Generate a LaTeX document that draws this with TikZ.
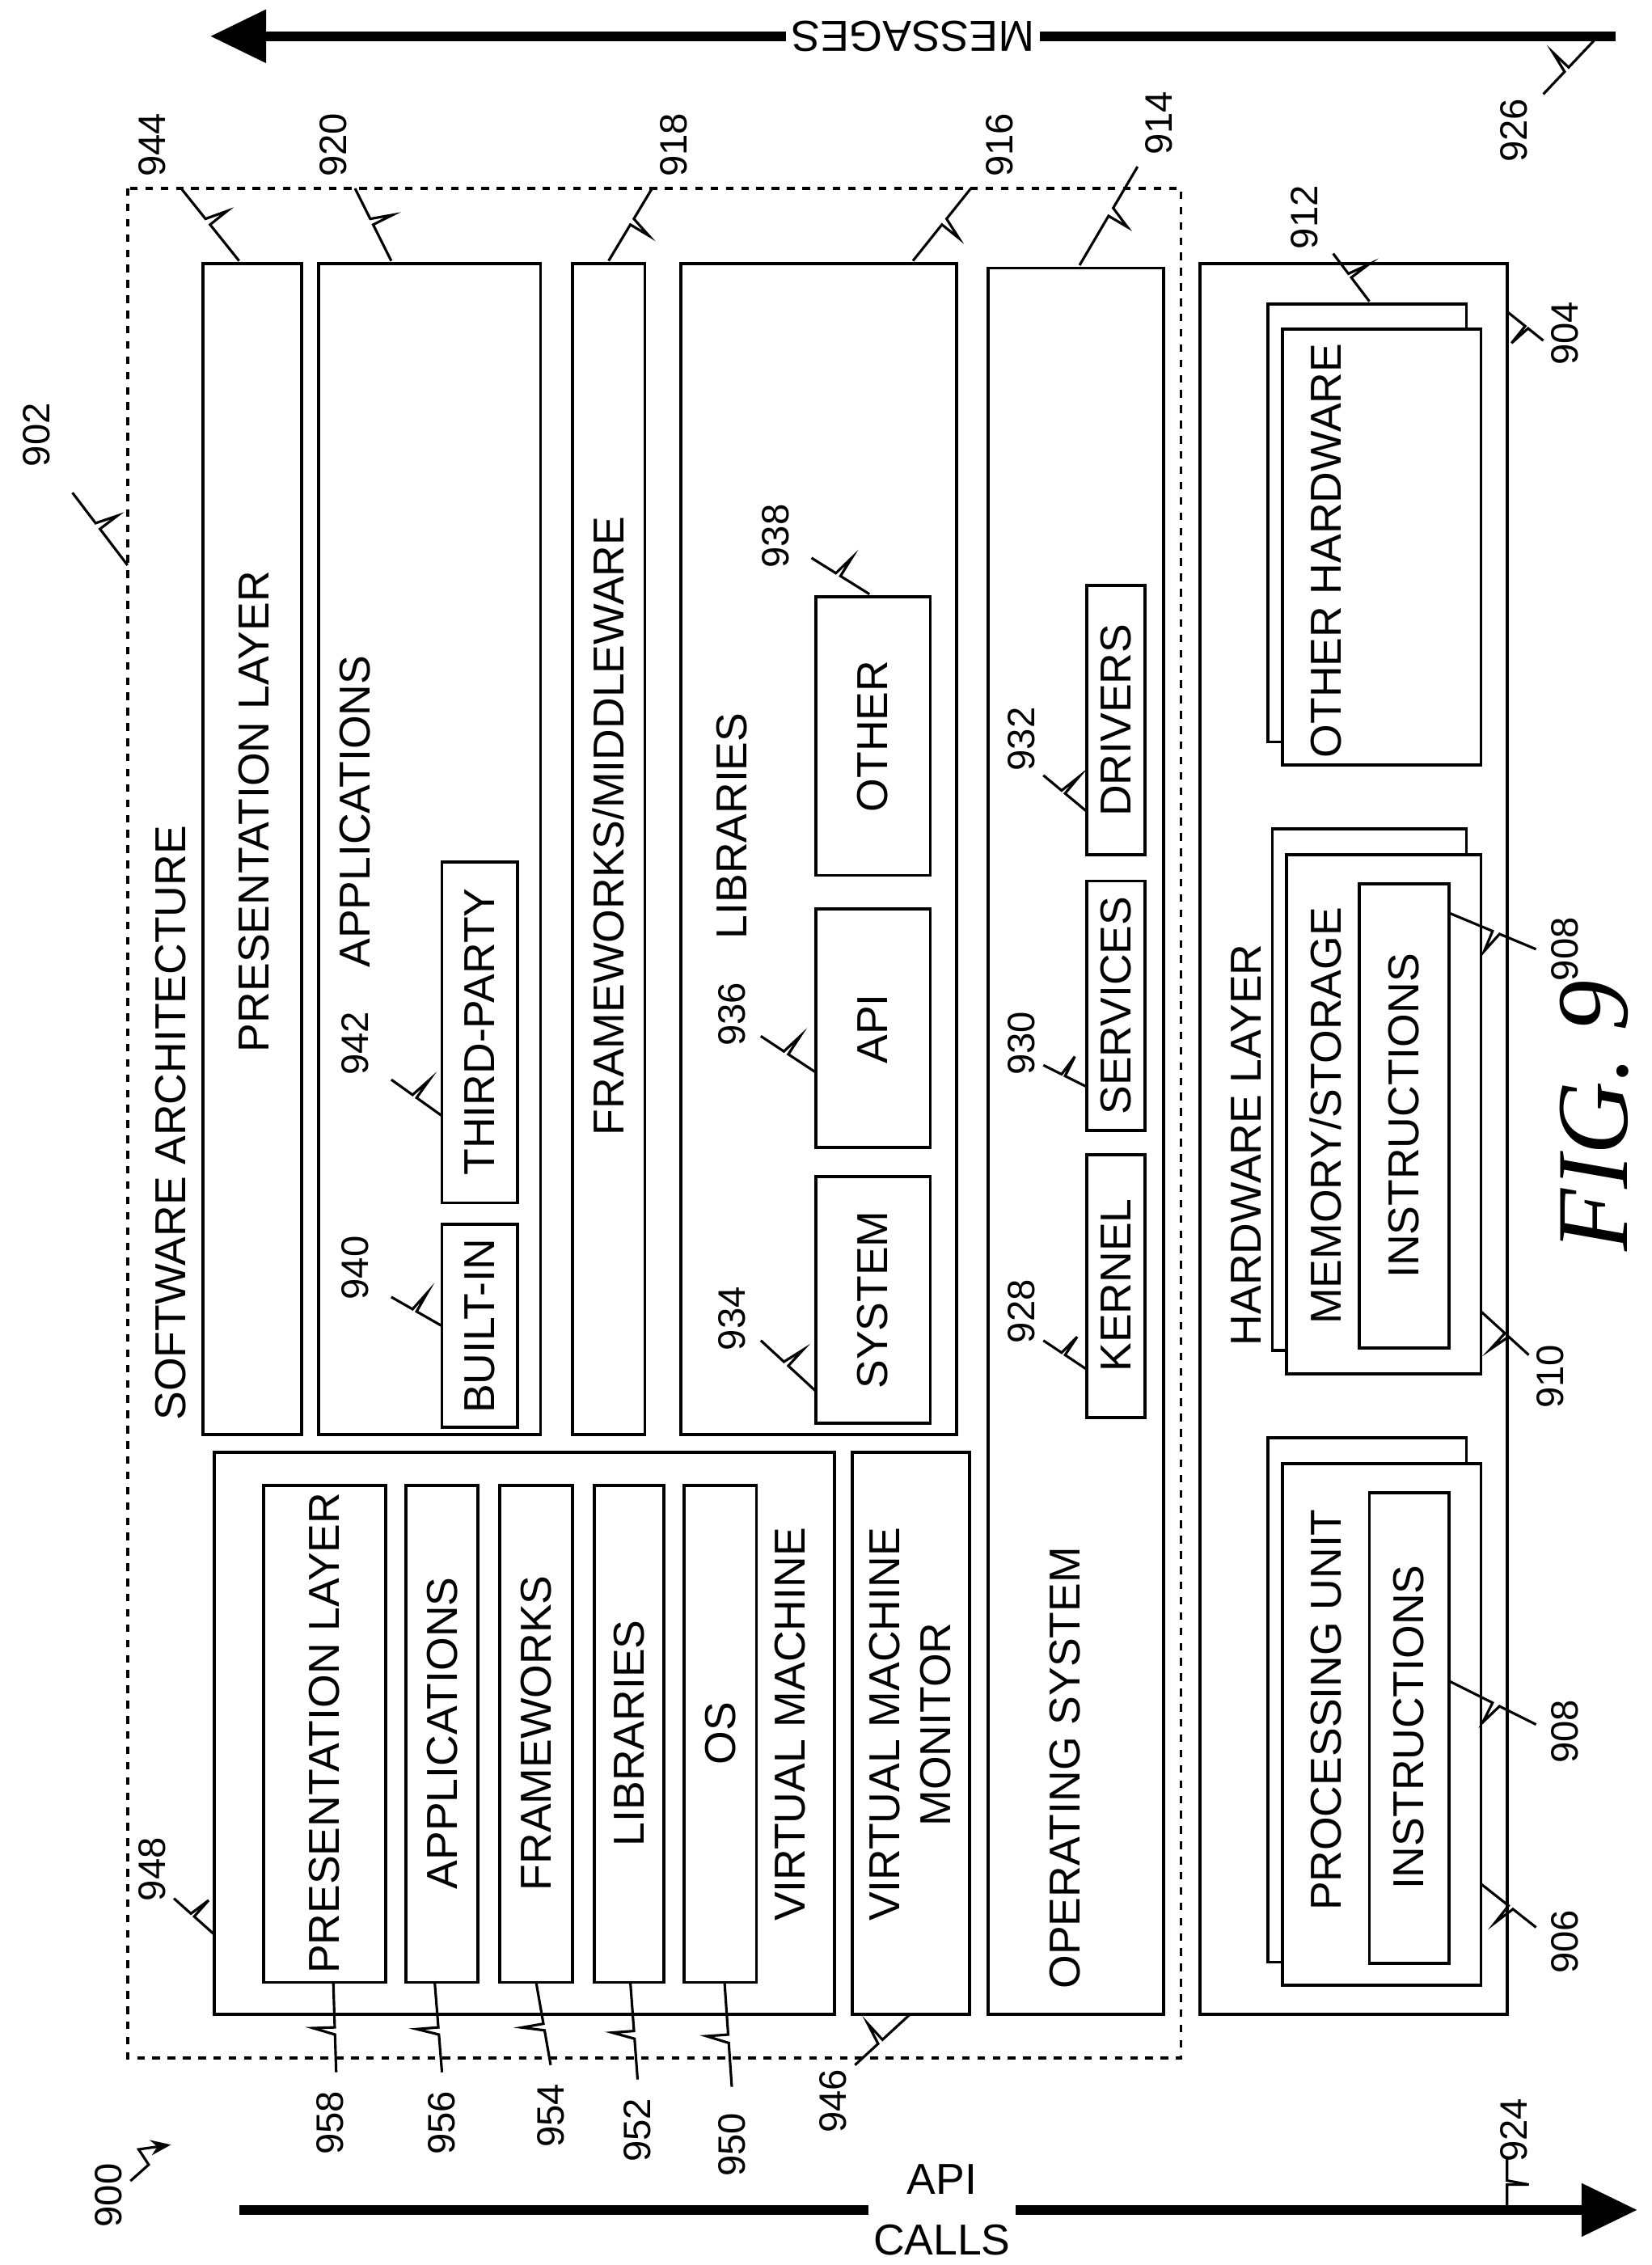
\documentclass[tikz,border=0pt]{standalone}
\usepackage{fontspec}
\setmainfont{Liberation Sans}
\newfontfamily\figfont{Liberation Serif}
\usetikzlibrary{calc, arrows.meta}
\tikzset{
  box/.style={draw, line width=1.2pt},
  txt/.style={rotate=90, font=\fontsize{17}{20}\selectfont, align=center},
  num/.style={rotate=90, font=\fontsize{15}{18}\selectfont},
  lead/.style={line width=1pt},
  big/.style={line width=4pt, -{Triangle[length=22pt,width=20pt]}}
}
% reference number with a zigzag leader
\newcommand{\refnum}[5]{%
  \node[num] (n#1) at (#2) {#5};
  \coordinate (s#1) at (#3);
  \coordinate (e#1) at (#4);
  \draw[lead] (s#1) -- ($(s#1)!.42!(e#1)$) -- ($($(s#1)!.5!(e#1)$)!.3cm!90:(e#1)$) -- ($(s#1)!.5!(e#1)$) -- (e#1);
}
\begin{document}
\begin{tikzpicture}[x=0.02cm, y=-0.02cm]
\useasboundingbox (0,0) rectangle (1140,1563);

% arrows
\coordinate (m1) at (1115,25); \coordinate (m2) at (145,25);
\draw[big] (m1) -- (m2);
\node[rotate=180, fill=white, inner sep=2pt, font=\fontsize{17}{20}\selectfont] (msg) at (630,25) {MESSAGES};
\coordinate (a1) at (165,1525); \coordinate (a2) at (1130,1525);
\draw[big] (a1) -- (a2);
\node[fill=white, inner sep=2pt, font=\fontsize{17}{20}\selectfont, align=center] (api) at (650,1525) {API\\[4pt]CALLS};

% software architecture
\draw[box, dashed] (88,130) rectangle (815,1420);
\node[txt] (sa) at (118,775) {SOFTWARE ARCHITECTURE};

\draw[box] (140,182) rectangle (208,990);
\node[txt] (pl) at (175,560) {PRESENTATION LAYER};

\draw[box] (220,182) rectangle (373,990);
\node[txt] (apps) at (245,560) {APPLICATIONS};
\draw[box] (305,845) rectangle (357,985);
\node[txt] (bi) at (331,915) {BUILT-IN};
\draw[box] (305,595) rectangle (357,830);
\node[txt] (tp) at (331,712) {THIRD-PARTY};

\draw[box] (395,182) rectangle (445,990);
\node[txt] (fw) at (420,570) {FRAMEWORKS/MIDDLEWARE};

\draw[box] (470,182) rectangle (660,990);
\node[txt] (lib) at (505,570) {LIBRARIES};
\draw[box] (563,812) rectangle (642,982);
\node[txt] (sys) at (602,897) {SYSTEM};
\draw[box] (563,627) rectangle (642,792);
\node[txt] (apin) at (602,710) {API};
\draw[box] (563,412) rectangle (642,604);
\node[txt] (oth) at (602,508) {OTHER};

\draw[box] (682,185) rectangle (803,1390);
\node[txt] (os) at (735,1220) {OPERATING SYSTEM};
\draw[box] (750,797) rectangle (790,978);
\node[txt] (ker) at (770,887) {KERNEL};
\draw[box] (750,608) rectangle (790,780);
\node[txt] (srv) at (770,694) {SERVICES};
\draw[box] (750,404) rectangle (790,590);
\node[txt] (drv) at (770,497) {DRIVERS};

% virtual machine
\draw[box] (148,1002) rectangle (576,1390);
\foreach \xa/\xb/\t in {182/266/PRESENTATION LAYER, 280/330/APPLICATIONS, 345/395/FRAMEWORKS, 410/458/LIBRARIES, 472/522/OS}{
  \draw[box] (\xa,1025) rectangle (\xb,1368);
  \node[txt] at ({(\xa+\xb)/2},1196) {\t};
}
\node[txt] (vm) at (545,1190) {VIRTUAL MACHINE};
\draw[box] (588,1002) rectangle (669,1390);
\node[txt] (vmm) at (628,1190) {VIRTUAL MACHINE\\MONITOR};

% hardware
\draw[box] (828,182) rectangle (1040,1390);
\node[txt] (hw) at (860,790) {HARDWARE LAYER};
\draw[box, fill=white] (875,210) rectangle (1012,512);
\draw[box, fill=white] (885,227) rectangle (1022,528);
\node[txt] (oh) at (915,380) {OTHER HARDWARE};
\draw[box, fill=white] (878,572) rectangle (1012,932);
\draw[box, fill=white] (888,590) rectangle (1022,948);
\node[txt] (mem) at (915,770) {MEMORY/STORAGE};
\draw[box] (938,610) rectangle (1000,930);
\node[txt] (ins1) at (969,770) {INSTRUCTIONS};
\draw[box, fill=white] (875,992) rectangle (1012,1354);
\draw[box, fill=white] (885,1010) rectangle (1022,1370);
\node[txt] (pu) at (915,1180) {PROCESSING UNIT};
\draw[box] (945,1030) rectangle (1000,1355);
\node[txt] (ins2) at (972,1192) {INSTRUCTIONS};

\node[rotate=90, font=\figfont\itshape\fontsize{40}{44}\selectfont] (fig) at (1100,770) {FIG. 9};

% reference numbers
\node[num] (n900) at (75,1515) {900};
\coordinate (e900) at (118,1480);
\draw[lead, -{Stealth[length=8pt]}] (90,1505) -- ($(90,1505)!.45!(e900)$) -- ($($(90,1505)!.5!(e900)$)!.25cm!90:(e900)$) -- (e900);
\refnum{902}{25,300}{50,340}{88,390}{902}
\refnum{944}{105,100}{125,130}{165,180}{944}
\refnum{920}{230,100}{245,130}{270,180}{920}
\refnum{918}{465,100}{450,130}{420,180}{918}
\refnum{916}{690,100}{670,130}{630,180}{916}
\refnum{914}{800,85}{785,115}{745,183}{914}
\refnum{926}{1045,90}{1065,65}{1100,28}{926}
\refnum{912}{900,150}{920,175}{945,208}{912}
\refnum{904}{1080,230}{1065,235}{1040,215}{904}
\refnum{938}{535,370}{560,385}{600,410}{938}
\refnum{936}{505,700}{525,715}{563,740}{936}
\refnum{934}{505,910}{525,925}{563,960}{934}
\refnum{942}{245,720}{270,745}{305,770}{942}
\refnum{940}{245,875}{270,895}{305,915}{940}
\refnum{932}{705,510}{720,535}{750,560}{932}
\refnum{930}{705,720}{720,735}{750,750}{930}
\refnum{928}{705,905}{720,925}{750,945}{928}
\refnum{910}{1070,950}{1055,935}{1022,905}{910}
\refnum{908a}{1080,655}{1060,655}{1000,630}{908}
\refnum{908b}{1080,1195}{1060,1190}{1000,1160}{908}
\refnum{906}{1080,1340}{1060,1330}{1022,1300}{906}
\refnum{924}{1045,1470}{1040,1490}{1040,1525}{924}
\refnum{948}{105,1290}{120,1310}{148,1335}{948}
\refnum{958}{228,1465}{232,1430}{230,1368}{958}
\refnum{956}{305,1465}{305,1430}{300,1368}{956}
\refnum{954}{380,1460}{380,1425}{370,1368}{954}
\refnum{952}{440,1470}{440,1435}{435,1368}{952}
\refnum{950}{505,1480}{505,1440}{500,1368}{950}
\refnum{946}{575,1450}{590,1425}{628,1390}{946}
\end{tikzpicture}
\end{document}
